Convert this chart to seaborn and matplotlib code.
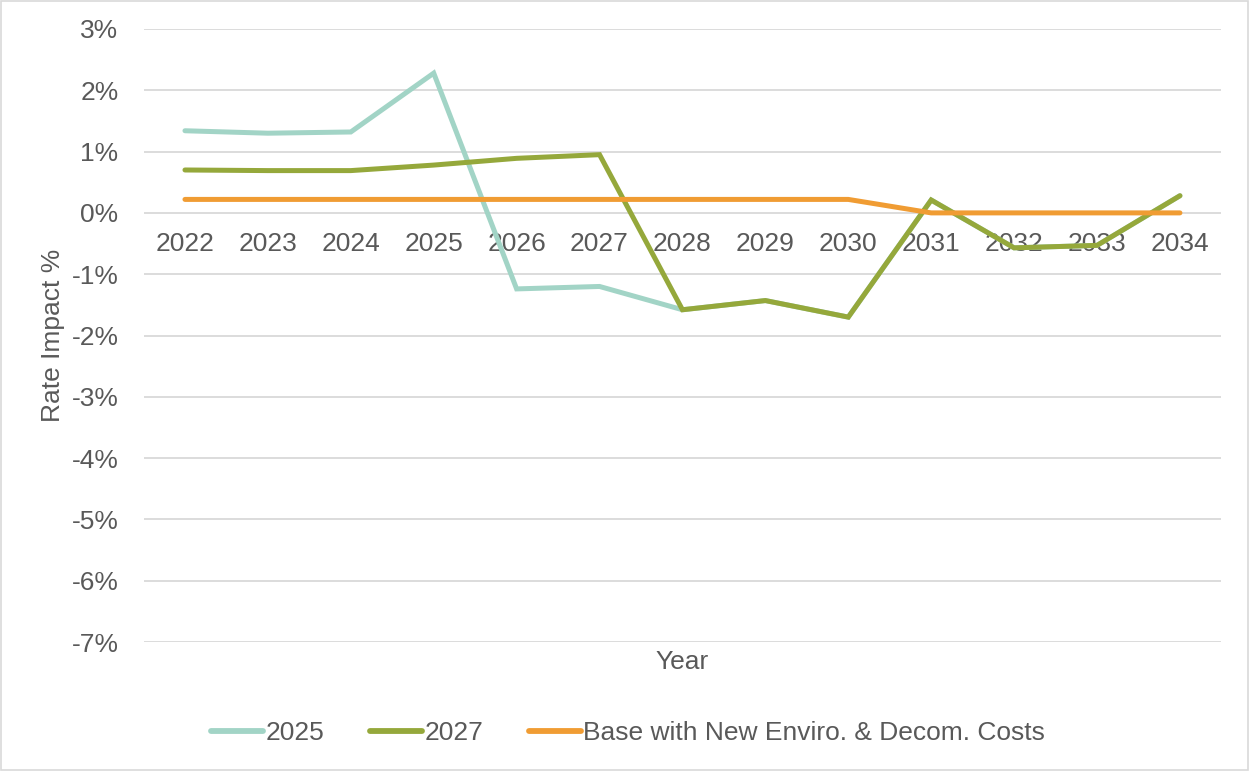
import matplotlib
matplotlib.use("Agg")
import matplotlib.pyplot as plt
import seaborn as sns
import pandas as pd
from matplotlib.patches import Rectangle
from matplotlib.ticker import FuncFormatter

years = [str(y) for y in range(2022, 2035)]
series_names = ["2025", "2027", "Base with New Enviro. & Decom. Costs"]
s2025 = [1.34, 1.30, 1.32, 2.28, -1.24, -1.20, -1.58, -1.43, -1.70, 0.21, -0.57, -0.53, 0.28]
s2027 = [0.70, 0.69, 0.69, 0.78, 0.89, 0.95, -1.58, -1.43, -1.70, 0.21, -0.57, -0.53, 0.28]
base = [0.22, 0.22, 0.22, 0.22, 0.22, 0.22, 0.22, 0.22, 0.22, 0.0, 0.0, 0.0, 0.0]
colors = ["#a2d4c6", "#95a83b", "#f09c33"]

rows = []
for name, vals in zip(series_names, [s2025, s2027, base]):
    for i, (yr, v) in enumerate(zip(years, vals)):
        rows.append({"idx": i, "Year": yr, "Series": name, "Value": v})
df = pd.DataFrame(rows)

sns.set_theme(style="white")
plt.rcParams["font.family"] = ["Liberation Sans", "DejaVu Sans"]
text_color = "#595959"

fig = plt.figure(figsize=(12.49, 7.71), dpi=100)
ax = fig.add_axes([0.1149, 0.1673, 0.863, 0.7951])

sns.lineplot(data=df, x="idx", y="Value", hue="Series", hue_order=series_names,
             palette=colors, linewidth=3.6, ax=ax, legend=False, sort=False)
for ln in ax.get_lines():
    ln.set_solid_capstyle("round")
    ln.set_solid_joinstyle("miter")

ax.set_xlim(-0.5, len(years) - 0.5)
ax.set_ylim(-7, 3)
ax.set_yticks(range(-7, 4))
ax.yaxis.set_major_formatter(FuncFormatter(lambda v, p: f"{int(v)}%"))
ax.grid(axis="y", color="#d9d9d9", linewidth=1.3)
ax.set_axisbelow(True)
for sp in ax.spines.values():
    sp.set_visible(False)

# category axis crosses at zero
ax.spines["bottom"].set_position(("data", 0))
ax.set_xticks(range(len(years)))
ax.set_xticklabels(years)
ax.tick_params(axis="x", length=0, pad=14, labelsize=19, labelcolor=text_color)
ax.tick_params(axis="y", length=0, pad=18, labelsize=19, labelcolor=text_color)

ax.set_xlabel("")
ax.set_ylabel("Rate Impact %", fontsize=19, color=text_color, labelpad=5)
fig.text(0.546, 0.141, "Year", ha="center", va="center", fontsize=19, color=text_color)

handles = [plt.Line2D([], [], color=c, linewidth=4.2, solid_capstyle="round") for c in colors]
fig.legend(handles, series_names, loc="center", bbox_to_anchor=(0.503, 0.049), ncol=3,
           frameon=False, fontsize=19, handlelength=1.95, handletextpad=0.1,
           columnspacing=1.75, labelcolor=text_color)

fig.add_artist(Rectangle((0.0008, 0.0013), 0.9984, 0.9974, transform=fig.transFigure,
                         fill=False, edgecolor="#d9d9d9", linewidth=1.2))

fig.savefig("out.png", dpi=100)
